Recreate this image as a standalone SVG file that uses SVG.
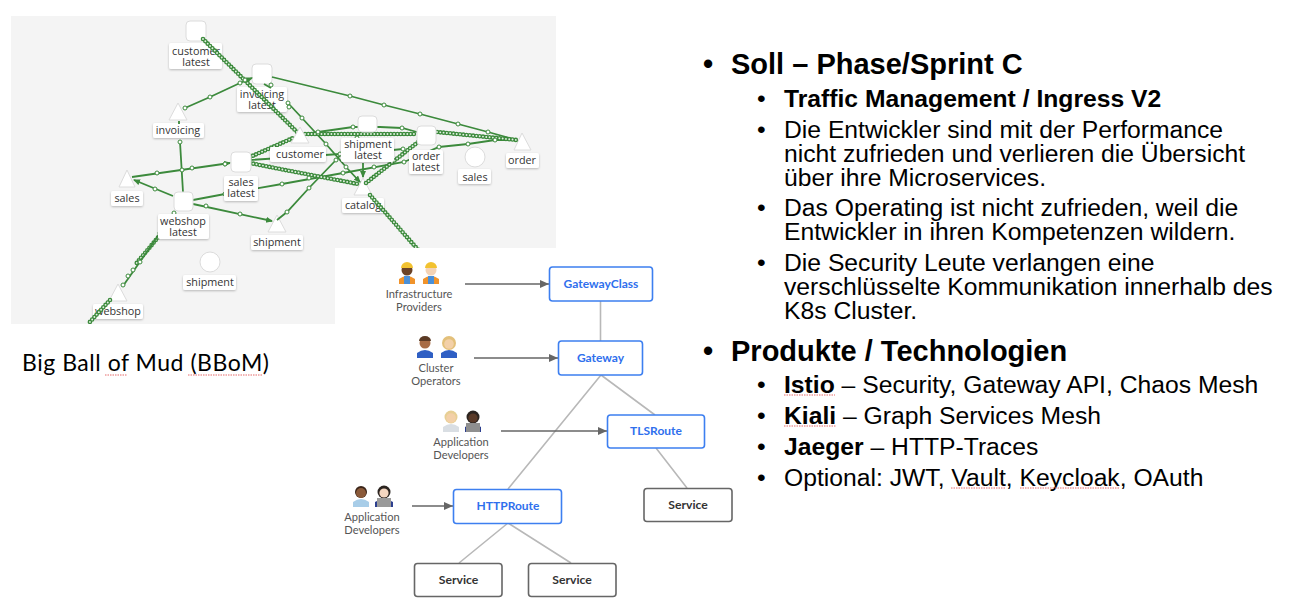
<svg xmlns="http://www.w3.org/2000/svg" width="1307" height="602" viewBox="0 0 1307 602">
<style>
.sq{fill:#fff;stroke:#dcdcdc;stroke-width:1}
.lb{fill:#fff;filter:url(#sh)}
.kt{font:10.8px "Open Sans",sans-serif;fill:#333;text-anchor:middle}
.e{fill:none;stroke:#3c8a3c;stroke-width:1.8}
.a{marker-end:url(#ga)}
.d1{fill:none;stroke:#3c8a3c;stroke-width:4.6;stroke-linecap:round;stroke-dasharray:0 3.3}
.d2{fill:none;stroke:#e4f0e4;stroke-width:1.9;stroke-linecap:round;stroke-dasharray:0 3.3}
.c{fill:#fff;stroke:#3c8a3c;stroke-width:1}
.br{fill:#fff;stroke:#3d7ff0;stroke-width:1.6}
.sr{fill:#fff;stroke:#666;stroke-width:1.6}
.bt{font:bold 12px Lato,sans-serif;fill:#2f6fed;text-anchor:middle}
.st{font:bold 12.2px Lato,sans-serif;fill:#333;text-anchor:middle}
.pt{font:11.1px Lato,sans-serif;fill:#555;text-anchor:middle}
.gl{stroke:#b8b8b8;stroke-width:1.6;fill:none}
.ar{stroke:#666;stroke-width:1.6;fill:none;marker-end:url(#da)}
.h1{font:bold 29px "Liberation Sans",Arial,sans-serif;fill:#000}
.h2{font:24.7px "Liberation Sans",Arial,sans-serif;fill:#000}
.b{font-weight:bold}
.sp{stroke:#e56a6a;stroke-width:1;stroke-dasharray:1.5 1;fill:none}
</style>
<defs>
<filter id="sh" x="-20%" y="-20%" width="140%" height="150%"><feDropShadow dx="0" dy="1" stdDeviation="1" flood-color="#000" flood-opacity=".25"/></filter>
<marker id="ga" markerWidth="8" markerHeight="8" refX="6" refY="3" orient="auto" markerUnits="userSpaceOnUse"><path d="M0 0L7 3L0 6z" fill="#3c8a3c"/></marker>
<marker id="da" markerWidth="10" markerHeight="8" refX="9" refY="4" orient="auto" markerUnits="userSpaceOnUse"><path d="M0 0L9 4L0 8z" fill="#666"/></marker>
<clipPath id="gc"><path d="M11 16H556V248H335V324H11z"/></clipPath>
</defs>
<rect id="graph-bg" x="11" y="16" width="545" height="308" fill="#f4f4f4"/>

<g id="n-customer-latest"><rect class="lb" x="169" y="43" width="53" height="26" rx="2"/><rect class="sq" x="186" y="21" width="20" height="20" rx="4"/><text class="kt" x="196" y="55">customer<tspan x="196" dy="10.500">latest</tspan></text></g>
<g id="n-invoicing-latest"><rect class="lb" x="237" y="87" width="50" height="25" rx="2"/><rect class="sq" x="252" y="64" width="20" height="20" rx="4"/><text class="kt" x="262" y="98">invoicing<tspan x="262" dy="10.500">latest</tspan></text></g>
<g id="n-invoicing"><rect class="lb" x="153" y="123" width="51" height="15" rx="2"/><path class="sq" d="M178 103L187 120H169z"/><text class="kt" x="178" y="134">invoicing</text></g>
<g id="n-sales"><rect class="lb" x="111" y="191" width="32" height="15" rx="2"/><path class="sq" d="M127 170L135 187H119z"/><text class="kt" x="127" y="202">sales</text></g>
<g id="n-shipment"><rect class="lb" x="251" y="235" width="52" height="15" rx="2"/><path class="sq" d="M277 215L286 232H268z"/><text class="kt" x="277" y="246">shipment</text></g>
<g id="n-shipment-svc"><rect class="lb" x="183" y="275" width="53" height="15" rx="2"/><circle class="sq" cx="210" cy="262" r="10"/><text class="kt" x="210" y="286">shipment</text></g>
<g id="n-webshop"><rect class="lb" x="93" y="304" width="50" height="15" rx="2"/><path class="sq" d="M118 284L127 301H109z"/><text class="kt" x="118" y="315">webshop</text></g>
<g id="n-sales-svc"><rect class="lb" x="458" y="169" width="33" height="15" rx="2"/><circle class="sq" cx="475" cy="157" r="10"/><text class="kt" x="475" y="181">sales</text></g>
<g id="n-order"><rect class="lb" x="506" y="153" width="33" height="15" rx="2"/><path class="sq" d="M522 133L531 150H514z"/><text class="kt" x="522" y="164">order</text></g>
<g id="n-catalog"><rect class="lb" x="342" y="198" width="42" height="15" rx="2"/><path class="sq" d="M363 178L372 195H354z"/><text class="kt" x="363" y="209">catalog</text></g>

<g id="connectors" clip-path="url(#gc)">
<path class="e" d="M272 77L350 96L384 105L420 114L458 124L488 132L517 140"/>
<path class="e a" d="M185 108L210 97L240 83L252 78"/>
<path class="e" d="M179 121V124M180 142L183 192"/>
<path class="e a" d="M132 177L230 163"/>
<path class="e a" d="M173 196L134 180"/>
<path class="e" d="M193 200L225 194L253 189L282 184L343 173L404 162L439 147L468 144L495 140L517 140"/>
<path class="e a" d="M193 204L272 221"/>
<path class="e" d="M277 220L287 212L309 188L336 160L358 136"/>
<path class="e a" d="M288 103L302 118L326 144L346 167L360 182"/>
<path class="e" d="M250 160L310 156L340 154L373 152L403 149"/>
<path class="e" d="M305 134L318 132L353 127L380 127L402 128L417 132"/>
<path class="e a" d="M363 163L363 177"/>
<path class="e" d="M264 84L271 88M287 103L289 107"/>
<g id="dense">
<path class="d1" d="M203 39L297 132"/><path class="d2" d="M203 39L297 132"/>
<path class="d1" d="M250 157L293 138"/><path class="d2" d="M250 157L293 138"/>
<path class="d1" d="M250 163L280 169L358 184"/><path class="d2" d="M250 163L280 169L358 184"/>
<path class="d1" d="M305 134L417 134"/><path class="d2" d="M305 134L417 134"/>
<path class="d1" d="M437 132L517 140"/><path class="d2" d="M437 132L517 140"/>
<path class="d1" d="M366 183L418 142"/><path class="d2" d="M366 183L418 142"/>
<path class="d1" d="M370 195L420 252"/><path class="d2" d="M370 195L420 252"/>
<path class="d1" d="M160 235L135 265"/><path class="d2" d="M160 235L135 265"/>
<path class="d1" d="M110 300L88 324"/><path class="d2" d="M110 300L88 324"/>
<path class="e" d="M174 213L123 286"/>
</g>
<g id="pts">
<circle class="c" cx="185" cy="108" r="2"/><circle class="c" cx="210" cy="97" r="2"/><circle class="c" cx="240" cy="83" r="2"/><circle class="c" cx="245" cy="80" r="2"/>
<circle class="c" cx="180" cy="142" r="2"/><circle class="c" cx="182" cy="170" r="2"/><circle class="c" cx="157" cy="173" r="2"/><circle class="c" cx="192" cy="168" r="2"/><circle class="c" cx="225" cy="164" r="2"/>
<circle class="c" cx="155" cy="189" r="2"/><circle class="c" cx="206" cy="206" r="2"/><circle class="c" cx="240" cy="214" r="2"/>
<circle class="c" cx="225" cy="194" r="2"/><circle class="c" cx="253" cy="189" r="2"/><circle class="c" cx="282" cy="184" r="2"/><circle class="c" cx="309" cy="178" r="2"/><circle class="c" cx="343" cy="173" r="2"/><circle class="c" cx="374" cy="167" r="2"/><circle class="c" cx="404" cy="162" r="2"/><circle class="c" cx="439" cy="147" r="2"/><circle class="c" cx="468" cy="144" r="2"/><circle class="c" cx="495" cy="140" r="2"/>
<circle class="c" cx="287" cy="212" r="2"/><circle class="c" cx="309" cy="188" r="2"/><circle class="c" cx="336" cy="160" r="2"/><circle class="c" cx="357" cy="138" r="2"/>
<circle class="c" cx="288" cy="103" r="2"/><circle class="c" cx="302" cy="118" r="2"/><circle class="c" cx="326" cy="144" r="2"/><circle class="c" cx="346" cy="167" r="2"/>
<circle class="c" cx="350" cy="96" r="2"/><circle class="c" cx="384" cy="105" r="2"/><circle class="c" cx="420" cy="114" r="2"/><circle class="c" cx="458" cy="124" r="2"/><circle class="c" cx="488" cy="132" r="2"/>
<circle class="c" cx="277" cy="159" r="2"/><circle class="c" cx="308" cy="156" r="2"/><circle class="c" cx="340" cy="154" r="2"/><circle class="c" cx="403" cy="149" r="2"/>
<circle class="c" cx="318" cy="132" r="2"/><circle class="c" cx="353" cy="127" r="2"/><circle class="c" cx="402" cy="128" r="2"/><circle class="c" cx="271" cy="85" r="2"/><circle class="c" cx="289" cy="107" r="2"/>
<circle class="c" cx="174" cy="213" r="2"/><circle class="c" cx="170" cy="220" r="2"/><circle class="c" cx="160" cy="233" r="2"/><circle class="c" cx="140" cy="262" r="2"/><circle class="c" cx="133" cy="270" r="2"/><circle class="c" cx="128" cy="276" r="2"/><circle class="c" cx="123" cy="285" r="2"/>
</g>
</g>

<g id="n-sales-latest"><rect class="lb" x="224" y="176" width="34" height="25" rx="2"/><rect class="sq" x="231" y="152" width="20" height="20" rx="4"/><text class="kt" x="241" y="186">sales<tspan x="241" dy="10.500">latest</tspan></text></g>
<g id="n-webshop-latest"><rect class="lb" x="158" y="214" width="51" height="25" rx="2"/><rect class="sq" x="174" y="192" width="19" height="19" rx="4"/><text class="kt" x="183" y="225">webshop<tspan x="183" dy="10.500">latest</tspan></text></g>
<g id="n-customer"><rect class="lb" x="270" y="147" width="56" height="15" rx="2"/><path class="sq" d="M300 127L309 143H291z"/><text class="kt" x="300" y="158">customer</text></g>
<g id="n-shipment-latest"><rect class="sq" x="358" y="116" width="19" height="16" rx="4"/><rect class="lb" x="341" y="138" width="53" height="24" rx="2"/><text class="kt" x="368" y="148">shipment<tspan x="368" dy="10.500">latest</tspan></text></g>
<g id="n-order-latest"><rect class="sq" x="417" y="126" width="19" height="19" rx="4"/><rect class="lb" x="409" y="150" width="34" height="24" rx="2"/><text class="kt" x="426" y="160">order<tspan x="426" dy="10.500">latest</tspan></text></g>

<rect id="panel" x="335" y="248" width="221" height="76" fill="#fff"/>

<g id="big-ball"><text x="22" y="371" font-family="Lato,sans-serif" font-size="23" textLength="247" fill="#000">Big Ball of Mud (BBoM)</text><path class="sp" d="M105 375H127M188 375H262"/></g>

<g id="route-connectors">
<path class="gl" d="M600.5 301V341M601 375L508 489M601 375L655 415M656 448L687 488M508 523L459 563M508 523L571 563"/>
<path class="ar" d="M465 284H549"/><path class="ar" d="M474 358H558"/><path class="ar" d="M501 431H607"/><path class="ar" d="M412 506H453"/>
</g>
<g id="gatewayclass"><rect class="br" x="549.5" y="267" width="103" height="34" rx="3"/><text class="bt" x="601" y="288">GatewayClass</text></g>
<g id="gateway"><rect class="br" x="558.500" y="341" width="84" height="34" rx="3"/><text class="bt" x="600.500" y="362">Gateway</text></g>
<g id="tlsroute"><rect class="br" x="607.500" y="415" width="97" height="33" rx="3"/><text class="bt" x="656" y="435">TLSRoute</text></g>
<g id="httproute"><rect class="br" x="453.500" y="489.500" width="108" height="34" rx="3"/><text class="bt" x="508" y="510">HTTPRoute</text></g>
<g id="service-a"><rect class="sr" x="644" y="488.500" width="88" height="33" rx="3"/><text class="st" x="688" y="509">Service</text></g>
<g id="service-b"><rect class="sr" x="414.500" y="563.500" width="87.500" height="33" rx="3"/><text class="st" x="458.500" y="584">Service</text></g>
<g id="service-c"><rect class="sr" x="528.500" y="563.500" width="87.500" height="33" rx="3"/><text class="st" x="572" y="584">Service</text></g>

<g id="infra-providers">
<g transform="translate(407 261)"><circle cy="9" r="5.500" fill="#6b4226"/><path d="M-6 7a6 6 0 0 1 12 0z" fill="#f2c230"/><path d="M-8 23V18q8-6 16 0v5z" fill="#f0932b"/><rect x="-3" y="15" width="6" height="8" fill="#4a90d9"/></g>
<g transform="translate(431 261)"><circle cy="9" r="5.500" fill="#f4d3b5"/><path d="M-6 7a6 6 0 0 1 12 0z" fill="#f2c230"/><path d="M-8 23V18q8-6 16 0v5z" fill="#f0932b"/><rect x="-3" y="15" width="6" height="8" fill="#4a90d9"/></g>
<text class="pt" x="419" y="298">Infrastructure<tspan x="419" dy="13">Providers</tspan></text></g>
<g id="cluster-operators">
<g transform="translate(425 335)"><circle cy="8" r="5.500" fill="#a86c45"/><path d="M-6 6a6 5 0 0 1 12 0z" fill="#5b3a24"/><path d="M-8 23V18q8-6 16 0v5z" fill="#2f5fc4"/></g>
<g transform="translate(449 335)"><circle cy="8" r="7" fill="#e3c07a"/><circle cy="9" r="4.800" fill="#f3d0a8"/><path d="M-8 23V18q8-6 16 0v5z" fill="#2f5fc4"/></g>
<text class="pt" x="436" y="372">Cluster<tspan x="436" dy="13">Operators</tspan></text></g>
<g id="app-devs-tls">
<g transform="translate(451 409)"><circle cy="8" r="6.500" fill="#e7cf94"/><circle cy="9" r="4.800" fill="#f3d0a8"/><path d="M-8 23V18q8-6 16 0v5z" fill="#d9dee3"/></g>
<g transform="translate(473 409)"><circle cy="8" r="6.500" fill="#2b2420"/><circle cy="9" r="4.600" fill="#5a3a28"/><path d="M-8 23V18q8-6 16 0v5z" fill="#2c3f8f"/><rect x="-7" y="14" width="14" height="9" fill="#8f8f8f"/></g>
<text class="pt" x="461" y="446">Application<tspan x="461" dy="13">Developers</tspan></text></g>
<g id="app-devs-http">
<g transform="translate(361 484)"><circle cy="8" r="6" fill="#3a2418"/><circle cy="9" r="5" fill="#8a5a3a"/><path d="M-8 23V18q8-6 16 0v5z" fill="#a8cde8"/></g>
<g transform="translate(384 484)"><circle cy="8" r="6.500" fill="#2b2420"/><circle cy="9" r="4.600" fill="#f4d6c0"/><path d="M-9 23V18q9-6 18 0v5z" fill="#2c3f8f"/><rect x="-7" y="14" width="14" height="9" fill="#9a9a9a"/></g>
<text class="pt" x="372" y="521">Application<tspan x="372" dy="13">Developers</tspan></text></g>

<g id="text-right">
<text class="h1" x="703" y="74">•</text><text class="h1" x="731" y="74">Soll – Phase/Sprint C</text>
<text class="h2" x="757" y="107">•</text><text class="h2 b" x="784" y="107">Traffic Management / Ingress V2</text>
<text class="h2" x="757" y="138">•</text><text class="h2" x="784" y="138">Die Entwickler sind mit der Performance</text>
<text class="h2" x="784" y="162">nicht zufrieden und verlieren die Übersicht</text>
<text class="h2" x="784" y="186">über ihre Microservices.</text>
<text class="h2" x="757" y="216">•</text><text class="h2" x="784" y="216">Das Operating ist nicht zufrieden, weil die</text>
<text class="h2" x="784" y="240">Entwickler in ihren Kompetenzen wildern.</text>
<text class="h2" x="757" y="271">•</text><text class="h2" x="784" y="271">Die Security Leute verlangen eine</text>
<text class="h2" x="784" y="295">verschlüsselte Kommunikation innerhalb des</text>
<text class="h2" x="784" y="319">K8s Cluster.</text>
<text class="h1" x="703" y="361">•</text><text class="h1" x="731" y="361">Produkte / Technologien</text>
<text class="h2" x="757" y="393">•</text><text class="h2" x="784" y="393"><tspan class="b">Istio</tspan> – Security, Gateway API, Chaos Mesh</text>
<text class="h2" x="757" y="424">•</text><text class="h2" x="784" y="424"><tspan class="b">Kiali</tspan> – Graph Services Mesh</text>
<text class="h2" x="757" y="455">•</text><text class="h2" x="784" y="455"><tspan class="b">Jaeger</tspan> – HTTP-Traces</text>
<text class="h2" x="757" y="486">•</text><text class="h2" x="784" y="486">Optional: JWT, Vault, Keycloak, OAuth</text>
<path class="sp" d="M784 395H835M784 426H836M951 488H1006M1020 488H1120"/>
</g>
</svg>
